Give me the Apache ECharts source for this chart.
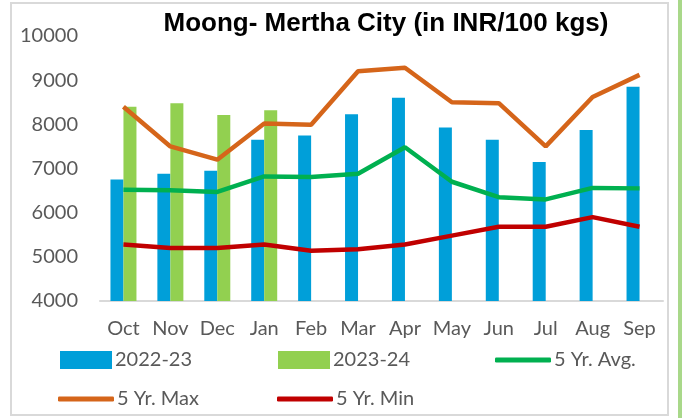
<!DOCTYPE html>
<html>
<head>
<meta charset="utf-8">
<script src="https://cdn.jsdelivr.net/npm/echarts@6/dist/echarts.min.js"></script>
<style>
  html, body { margin: 0; padding: 0; background: #fff; }
  #chart { width: 682px; height: 418px; }
</style>
</head>
<body>
<div id="chart"></div>
<script>
// months (Oct -> Sep)
const months = ['Oct', 'Nov', 'Dec', 'Jan', 'Feb', 'Mar', 'Apr', 'May', 'Jun', 'Jul', 'Aug', 'Sep']

// prices, INR / 100 kgs
const y2022 = [6750, 6880, 6950, 7650, 7750, 8230, 8600, 7930, 7650, 7150, 7870, 8850]
const y2023 = [8400, 8480, 8210, 8320, null, null, null, null, null, null, null, null]
const avg5 = [6520, 6510, 6470, 6820, 6810, 6880, 7480, 6700, 6350, 6300, 6560, 6550]
const max5 = [8400, 7500, 7200, 8020, 7990, 9200, 9280, 8500, 8480, 7500, 8620, 9120]
const min5 = [5280, 5200, 5200, 5280, 5140, 5170, 5280, 5480, 5680, 5680, 5900, 5680]

const yTicks = [4000, 10000, 1000] // min, max, step

const FONT = 'Lato'
const txt = { fontFamily: FONT, fontSize: 20, color: '#595959' }

const chart = echarts.init(document.getElementById('chart'))

// one legend box per item, placed like the excel layout
const legendAt = (name, left, top, isBar) => ({
  data: [name],
  left: left,
  top: top,
  icon: isBar ? 'rect' : 'roundRect',
  itemWidth: isBar ? 52 : 56,
  itemHeight: isBar ? 18 : 5,
  itemGap: 0,
  textStyle: Object.assign({}, txt, { padding: [0, 0, 0, -2] }),
  selectedMode: false
})

chart.setOption({
  animation: false,
  title: {
    text: 'Moong- Mertha City (in INR/100 kgs)',
    left: 381,
    textAlign: 'center',
    top: 6,
    textStyle: { fontFamily: 'Liberation Sans', fontWeight: 'bold', fontSize: 26, color: '#000' }
  },
  graphic: [
    { type: 'rect', shape: { x: 11, y: 3, width: 657, height: 412 }, style: { fill: 'none', stroke: '#D9D9D9', lineWidth: 2 } },
    { type: 'rect', shape: { x: 678, y: 0, width: 4, height: 418 }, style: { fill: '#A9D88A' } }
  ],
  legend: [
    legendAt('2022-23', 55, 345, true),
    legendAt('2023-24', 273, 345, true),
    legendAt('5 Yr. Avg.', 490, 345, false),
    legendAt('5 Yr. Max', 53, 384, false),
    legendAt('5 Yr. Min', 272, 384, false)
  ],
  grid: { left: 100, right: 19, top: 36, bottom: 117 },
  xAxis: {
    type: 'category',
    data: months,
    axisTick: { show: false },
    axisLine: { lineStyle: { color: '#D9D9D9', width: 2 } },
    axisLabel: Object.assign({}, txt, { margin: 18, interval: 0, hideOverlap: false })
  },
  yAxis: {
    type: 'value',
    min: yTicks[0],
    max: yTicks[1],
    interval: yTicks[2],
    splitLine: { show: false },
    axisLine: { show: false },
    axisTick: { show: false },
    axisLabel: Object.assign({}, txt, { margin: 22, formatter: v => String(v) })
  },
  series: [
    { name: '2022-23', type: 'bar', data: y2022, barWidth: 13, barGap: '0%', itemStyle: { color: '#009FD9' } },
    { name: '2023-24', type: 'bar', data: y2023, barWidth: 13, barGap: '0%', itemStyle: { color: '#92D050' } },
    { name: '5 Yr. Avg.', type: 'line', data: avg5, symbol: 'none', lineStyle: { color: '#00B050', width: 4.5 }, itemStyle: { color: '#00B050' } },
    { name: '5 Yr. Max', type: 'line', data: max5, symbol: 'none', lineStyle: { color: '#D5651A', width: 4.5 }, itemStyle: { color: '#D5651A' } },
    { name: '5 Yr. Min', type: 'line', data: min5, symbol: 'none', lineStyle: { color: '#C00000', width: 4.5 }, itemStyle: { color: '#C00000' } }
  ]
})
</script>
</body>
</html>
